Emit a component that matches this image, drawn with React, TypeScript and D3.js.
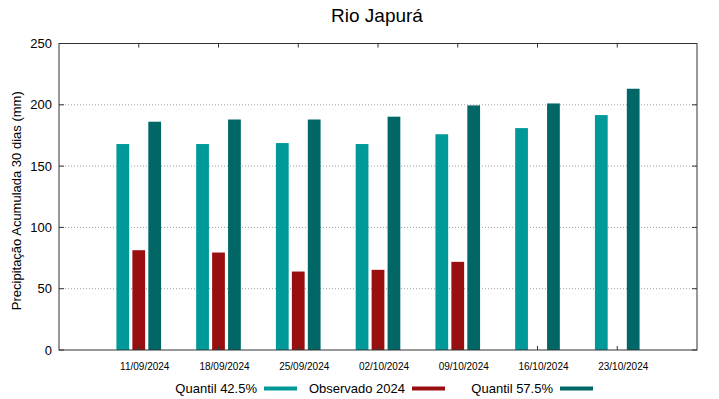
import React from 'react';
import * as d3 from 'd3';

const dates = ['11/09/2024', '18/09/2024', '25/09/2024', '02/10/2024', '09/10/2024', '16/10/2024', '23/10/2024'];
const quantil425 = [168, 168, 168.8, 168, 176, 181, 191.6];
const observado2024 = [81.4, 79.5, 64, 65.4, 71.9, null, null];
const quantil575 = [186.2, 188, 188, 190.3, 199.5, 201.1, 213.1];
const yTicks = [0, 50, 100, 150, 200, 250];

const series = [
  { name: 'Quantil 42.5%', values: quantil425, color: '#009999', offset: -0.2 },
  { name: 'Observado 2024', values: observado2024, color: '#990f0f', offset: 0 },
  { name: 'Quantil 57.5%', values: quantil575, color: '#006666', offset: 0.2 },
];

const W = 719;
const H = 399;
const margin = { top: 43.5, right: 22, bottom: 49, left: 59 };
const font = '"Liberation Sans", Arial, sans-serif';

const App = () => {
  const x = d3.scaleLinear().domain([0, dates.length + 1]).range([margin.left, W - margin.right]);
  const y = d3.scaleLinear().domain([0, 250]).range([H - margin.bottom, margin.top]);
  const barW = x(0.16) - x(0);
  const left = x.range()[0];
  const right = x.range()[1];
  const top = y(250);
  const bottom = y(0);

  // legend layout: text ends before swatch
  const legend = [
    { textEnd: 257, swatch: 264 },
    { textEnd: 405, swatch: 412 },
    { textEnd: 553, swatch: 560 },
  ];

  return (
    <svg width={W} height={H} style={{ position: 'absolute', left: 0, top: 0, fontFamily: font }}>
      <rect width={W} height={H} fill="#fff" />
      <text x={377} y={22} textAnchor="middle" fontSize={19} fill="#000">Rio Japurá</text>

      {/* grid */}
      {yTicks.filter(t => t > 0 && t < 250).map(t => (
        <line key={'g' + t} x1={left} x2={right} y1={y(t)} y2={y(t)}
          stroke="#a0a0a0" strokeWidth={1} strokeDasharray="1,2" />
      ))}

      {/* bars */}
      {series.map(s => (
        <g key={s.name}>
          {s.values.map((v, i) => v == null ? null : (
            <rect key={i} x={x(i + 1 + s.offset) - barW / 2} y={y(v)} width={barW}
              height={bottom - y(v)} fill={s.color} />
          ))}
        </g>
      ))}

      {/* frame */}
      <rect x={left} y={top} width={right - left} height={bottom - top} fill="none" stroke="#333" strokeWidth={1} />

      {/* y ticks */}
      {yTicks.map(t => (
        <g key={'y' + t}>
          <line x1={left} x2={left + 5} y1={y(t)} y2={y(t)} stroke="#333" />
          <line x1={right - 5} x2={right} y1={y(t)} y2={y(t)} stroke="#333" />
          <text x={52} y={y(t)} dy="0.35em" textAnchor="end" fontSize={13} fill="#000">{t}</text>
        </g>
      ))}

      {/* x ticks */}
      {dates.map((d, i) => (
        <g key={d}>
          <line x1={x(i + 1)} x2={x(i + 1)} y1={bottom} y2={bottom - 4} stroke="#333" />
          <line x1={x(i + 1)} x2={x(i + 1)} y1={top} y2={top + 4} stroke="#333" />
          <text x={x(i + 1) + 6} y={370} textAnchor="middle" fontSize={10} fill="#000">{d}</text>
        </g>
      ))}

      <text transform={`translate(21,${(top + bottom) / 2 + 4}) rotate(-90)`} textAnchor="middle"
        fontSize={13} fill="#000">Precipitação Acumulada 30 dias (mm)</text>

      {/* legend */}
      {series.map((s, i) => (
        <g key={'l' + s.name}>
          <text x={legend[i].textEnd} y={392.5} textAnchor="end" fontSize={13} fill="#000">{s.name}</text>
          <rect x={legend[i].swatch} y={386.5} width={33} height={4} fill={s.color} />
        </g>
      ))}
    </svg>
  );
};

export default App;
